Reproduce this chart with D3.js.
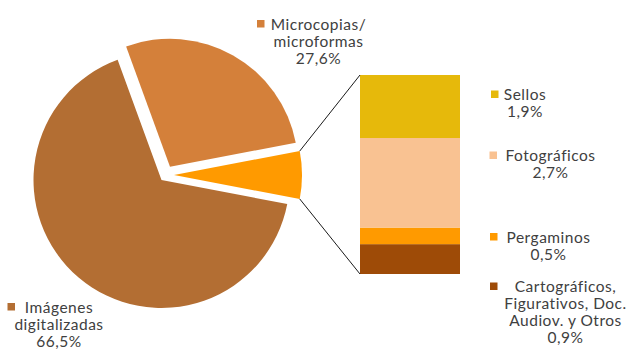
<!DOCTYPE html>
<html>
<head>
<meta charset="utf-8">
<script src="https://cdn.jsdelivr.net/npm/d3@7"></script>
<style>
  html, body { margin: 0; padding: 0; background: #fff; }
  svg { display: block; }
  text { font-family: Lato, "Open Sans", sans-serif; font-size: 15.5px; letter-spacing: 0.5px; fill: #404040; }
</style>
</head>
<body>
<svg id="chart" width="628" height="349"></svg>
<script>
// ---- data ----
const pieCategories = ["Microcopias/\nmicroformas", "Otros", "Imágenes\ndigitalizadas"];
const pieValuesMain = [27.6, 66.5]; // Microcopias, Imágenes
const barCategories = ["Sellos", "Fotográficos", "Pergaminos", "Cartográficos,\nFigurativos, Doc.\nAudiov. y Otros"];
const barValues = [1.9, 2.7, 0.5, 0.9];
const pieLabels = ["27,6%", null, "66,5%"];
const barLabels = ["1,9%", "2,7%", "0,5%", "0,9%"];

// ---- style / layout ----
const pieColors = ["#D4803A", "#FF9A00", "#B36E33"];
const barColors = ["#E6B90B", "#F9C292", "#FF9A00", "#9E4B07"];
const W = 628, H = 349;
const cx = 161.5, cy = 180, R = 128;
const explode = [[8.5, -13.3], [12.5, -5], [0, 0]];
const barX0 = 360, barX1 = 460, barTop = 75, barBottom = 274;

const svg = d3.select("#chart");

// pie values: "Otros" is sum of bar values
const otros = d3.sum(barValues);
const pieValues = [pieValuesMain[0], otros, pieValuesMain[1]];
const total = d3.sum(pieValues);
const otrosSpan = otros / total * 2 * Math.PI;
const startAngle = Math.PI / 2 - otrosSpan / 2 - pieValues[0] / total * 2 * Math.PI;

const pie = d3.pie().sort(null).startAngle(startAngle).endAngle(startAngle + 2 * Math.PI);
const arcs = pie(pieValues);
const arcGen = d3.arc().innerRadius(0).outerRadius(R);

const g = svg.append("g").attr("transform", `translate(${cx},${cy})`);
g.selectAll("path.slice").data(arcs).join("path")
  .attr("class", "slice")
  .attr("d", arcGen)
  .attr("fill", (d, i) => pieColors[i])
  .attr("transform", (d, i) => `translate(${explode[i][0]},${explode[i][1]})`);

// bar of pie
const y = d3.scaleLinear().domain([0, otros]).range([barBottom, barTop]);
const x = d3.scaleBand().domain(["otros"]).range([barX0, barX1]).padding(0);
const stackOrder = barValues.map((v, i) => i).reverse();
let acc = 0;
const segs = [];
stackOrder.forEach(i => { segs.push({ i, y0: acc, y1: acc + barValues[i] }); acc += barValues[i]; });
svg.selectAll("rect.seg").data(segs).join("rect")
  .attr("class", "seg")
  .attr("x", x("otros"))
  .attr("width", x.bandwidth())
  .attr("y", d => y(d.y1))
  .attr("height", d => y(d.y0) - y(d.y1))
  .attr("fill", d => barColors[d.i]);

// connector lines
const oa = arcs[1];
const ox = cx + explode[1][0], oy = cy + explode[1][1];
const p1 = [ox + R * Math.sin(oa.startAngle), oy - R * Math.cos(oa.startAngle)];
const p2 = [ox + R * Math.sin(oa.endAngle), oy - R * Math.cos(oa.endAngle)];
svg.append("line").attr("x1", p1[0]).attr("y1", p1[1]).attr("x2", x("otros")).attr("y2", y(otros))
  .attr("stroke", "#1a1a1a").attr("stroke-width", 1);
svg.append("line").attr("x1", p2[0]).attr("y1", p2[1]).attr("x2", x("otros")).attr("y2", y(0))
  .attr("stroke", "#1a1a1a").attr("stroke-width", 1);

// labels
const lh = 17;
const labels = [
  { lines: pieCategories[0].split("\n").concat(pieLabels[0]), color: pieColors[0], cx: 318.5, y: 29.5, mx: 257 },
  { lines: pieCategories[2].split("\n").concat(pieLabels[2]), color: pieColors[2], cx: 59, y: 312.5, mx: 7.5 },
];
barCategories.forEach((c, i) => {
  const pos = [
    { cx: 525, y: 100, mx: 491 },
    { cx: 550.5, y: 161, mx: 489.5 },
    { cx: 548.5, y: 242.5, mx: 490 },
    { cx: 565.5, y: 292, mx: 490 },
  ][i];
  labels.push({ lines: c.split("\n").concat(barLabels[i]), color: barColors[i], ...pos });
});

labels.forEach(l => {
  const t = svg.append("text").attr("text-anchor", "middle");
  l.lines.forEach((s, k) => {
    t.append("tspan").attr("x", l.cx).attr("y", l.y + k * lh).text(s);
  });
  svg.append("rect").attr("x", l.mx).attr("y", l.y - 9.5).attr("width", 7.5).attr("height", 7.5).attr("fill", l.color);
});
</script>
</body>
</html>
